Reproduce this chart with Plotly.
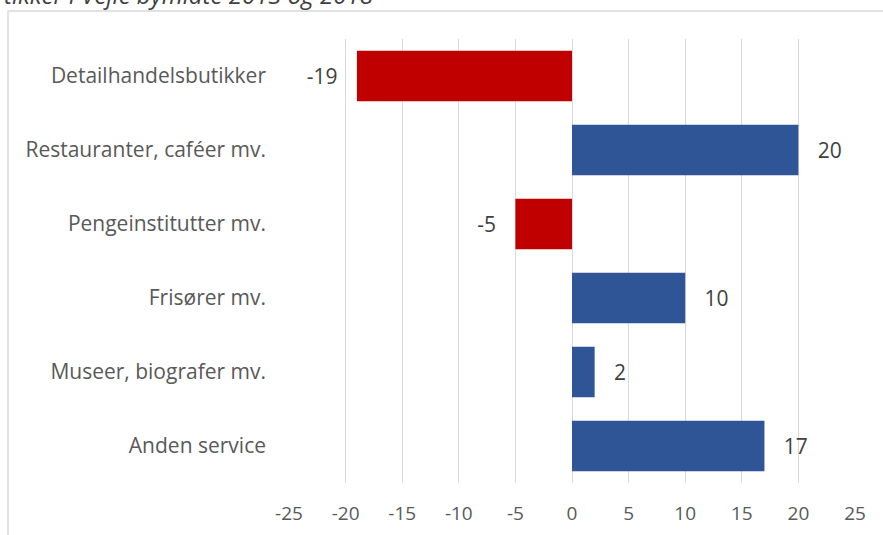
import plotly.graph_objects as go

categories = ["Detailhandelsbutikker", "Restauranter, caféer mv.", "Pengeinstitutter mv.",
              "Frisører mv.", "Museer, biografer mv.", "Anden service"]
values = [-19, 20, -5, 10, 2, 17]
tick_vals = [-25, -20, -15, -10, -5, 0, 5, 10, 15, 20, 25]

colors = ["#C00000" if v < 0 else "#2F5597" for v in values]
pad = "\u00a0\u00a0\u00a0"
labels = [(str(v) + pad) if v < 0 else (pad + str(v)) for v in values]

fig = go.Figure(go.Bar(
    y=categories, x=values, orientation="h",
    marker=dict(color=colors, line=dict(width=0)),
    text=labels, textposition="outside", constraintext="none",
    textfont=dict(family="Open Sans", size=21, color="#404040"),
    cliponaxis=False,
))

W, H = 883, 535
L, R, T, B = 289, 28, 39, 52
pw, ph = W - L - R, H - T - B

def px2x(px):
    return (px - L) / pw

def py2y(py):
    return (H - B - py) / ph

fig.update_layout(
    width=W, height=H,
    margin=dict(l=L, r=R, t=T, b=B, autoexpand=False),
    paper_bgcolor="white", plot_bgcolor="white",
    bargap=0.32,
    showlegend=False,
    xaxis=dict(range=[-25, 25], tickvals=tick_vals, ticktext=[str(t) for t in tick_vals],
               automargin=False,
               showgrid=True, gridcolor="#D9D9D9", gridwidth=1,
               zeroline=True, zerolinecolor="#D9D9D9", zerolinewidth=1,
               showline=False, ticks="", ticklabelstandoff=17,
               tickfont=dict(family="Open Sans", size=19, color="#595959")),
    yaxis=dict(autorange="reversed", showgrid=False, showline=False, ticks="",
               automargin=False, ticklabelstandoff=22,
               tickfont=dict(family="Open Sans", size=21, color="#595959")),
    shapes=[dict(type="rect", xref="paper", yref="paper",
                 x0=px2x(8), x1=px2x(900), y0=py2y(560), y1=py2y(11),
                 line=dict(color="#D9D9D9", width=1.5), fillcolor="rgba(0,0,0,0)",
                 layer="below")],
    annotations=[dict(text="tikker i Vejle bymidte 2013 og 2018", xref="paper", yref="paper",
                      x=px2x(2), y=py2y(-5), xanchor="left", yanchor="middle",
                      showarrow=False,
                      font=dict(family="Open Sans", size=24, color="#404040", style="italic"))],
)

fig.write_html("out.html", config={"displayModeBar": False},
               post_script="document.body.style.margin='0';document.body.style.overflow='hidden';")
